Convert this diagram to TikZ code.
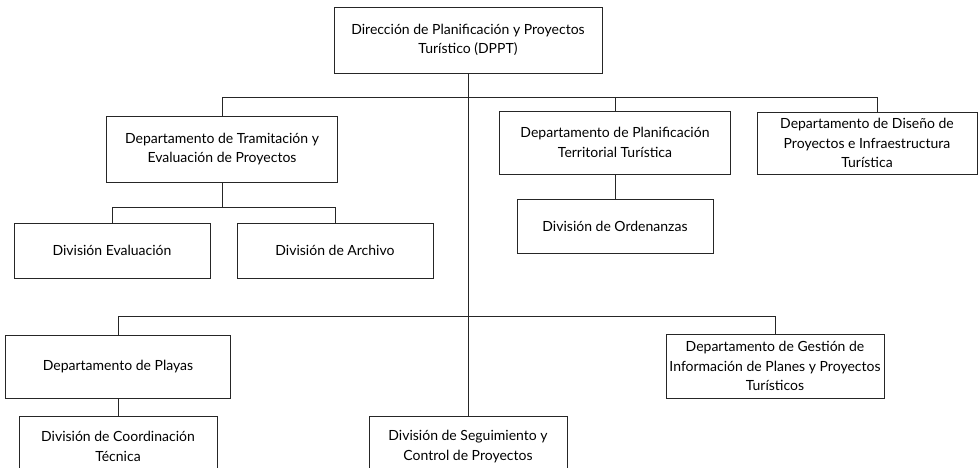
\documentclass[tikz,border=0pt]{standalone}
\usepackage{fontspec}
\setmainfont{Lato}
\begin{document}
\begin{tikzpicture}[x=1pt,y=-1pt,
  box/.style={draw=black!85, line width=0.9pt, align=center, inner sep=0pt,
    font=\fontsize{14}{19.5}\selectfont, anchor=center},
  conn/.style={draw=black!85, line width=0.9pt}]
\useasboundingbox (0,0) rectangle (978,467);
\node[box, minimum width=268, minimum height=66] (dppt) at (468,40) {Dirección de Planificación y Proyectos\\Turístico (DPPT)};
\node[box, minimum width=231, minimum height=66] (tram) at (222,149) {Departamento de Tramitación y\\Evaluación de Proyectos};
\node[box, minimum width=196, minimum height=55] (eval) at (112,250.5) {División Evaluación};
\node[box, minimum width=196, minimum height=55] (arch) at (335,250.5) {División de Archivo};
\node[box, minimum width=231, minimum height=63] (plan) at (615,142.5) {Departamento de Planificación\\Territorial Turística};
\node[box, minimum width=196, minimum height=54] (orde) at (615,226) {División de Ordenanzas};
\node[box, minimum width=220, minimum height=62] (dise) at (867,143) {Departamento de Diseño de\\Proyectos e Infraestructura\\Turística};
\node[box, minimum width=225, minimum height=63] (play) at (118,366.5) {Departamento de Playas};
\node[box, minimum width=198, minimum height=60, anchor=north] (coor) at (118,416) {División de Coordinación\\Técnica};
\node[box, minimum width=198, minimum height=60, anchor=north] (segu) at (468,416) {División de Seguimiento y\\Control de Proyectos};
\node[box, minimum width=218, minimum height=64] (gest) at (775,366) {Departamento de Gestión de\\Información de Planes y Proyectos\\Turísticos};
\coordinate (b1) at (0,97);
\coordinate (b2) at (0,207);
\coordinate (b3) at (0,316);
\coordinate (d1) at (877,112);
\draw[conn] (dppt.south) -- (segu.north);
\draw[conn] (tram.north) |- (d1 |- b1) -- (d1);
\draw[conn] (plan.north) -- (plan.north |- b1);
\draw[conn] (tram.south) -- (tram.south |- b2);
\draw[conn] (eval.north) |- (arch.north |- b2) -- (arch.north);
\draw[conn] (plan.south) -- (orde.north);
\draw[conn] (play.north) |- (gest.north |- b3) -- (gest.north);
\draw[conn] (play.south) -- (coor.north);
\end{tikzpicture}
\end{document}
